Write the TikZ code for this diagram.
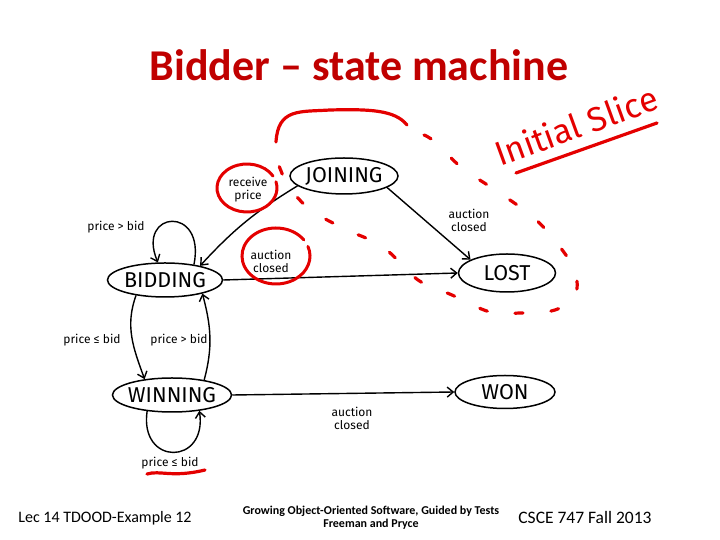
\documentclass[tikz,border=0pt]{standalone}
\usepackage{fontspec}
\setmainfont{Carlito}
\newfontfamily\handfont{Fira Sans}
\usetikzlibrary{positioning,shapes.geometric,arrows.meta}
\definecolor{titleRed}{RGB}{192,0,0}
\definecolor{penRed}{RGB}{228,0,0}
\tikzset{
  statenode/.style={draw, ellipse, line width=1.5pt, inner xsep=-8pt, inner ysep=0pt, font=\handfont\fontsize{21.5}{21.5}\selectfont},
  trans/.style={->, line width=1.4pt},
  lbl/.style={font=\handfont\fontsize{12}{13}\selectfont, align=center, inner sep=1pt},
  ring/.style={draw=penRed, line width=3pt, line cap=round},
  slicepen/.style={penRed, line width=3.2pt, line cap=round},
  foot/.style={anchor=base, inner sep=0pt}
}

\begin{document}
\begin{tikzpicture}[x=1pt, y=1pt, >={Straight Barb[length=6pt,width=10pt]}]
  \useasboundingbox (0,0) rectangle (720,540);

  % title
  \node[anchor=base, text=titleRed, font=\bfseries\fontsize{44}{44}\selectfont] (title) at (359,459) {Bidder -- state machine};

  % states
  \node[statenode, minimum width=108pt, minimum height=36pt] (joining) at (344,364) {JOINING};
  \node[statenode, minimum width=115pt, minimum height=34pt] (bidding) at (165,260) {BIDDING};
  \node[statenode, minimum width=97pt, minimum height=38pt] (lost) at (507,267) {LOST};
  \node[statenode, minimum width=119pt, minimum height=34pt] (winning) at (172,145) {WINNING};
  \node[statenode, minimum width=100pt, minimum height=33pt] (won) at (505,148) {WON};

  % transitions
  \draw[trans] (joining.192) to[bend right=8] (bidding.22);
  \draw[trans] (joining.-15) -- (lost.160);
  \draw[trans] (bidding.east) -- (lost.west);
  \draw[trans] (winning.east) -- (won.west);
  \draw[trans] (bidding.28) .. controls +(12,60) and +(-22,52) .. (bidding.112);
  \draw[trans] (bidding.208) to[out=250, in=110] (winning.150);
  \draw[trans] (winning.25) to[out=75, in=285] (bidding.340);
  \draw[trans] (winning.213) .. controls +(-8,-55) and +(8,-55) .. (winning.330);

  % labels
  \node[lbl] (lblRecv) at (248,350) {receive\\price};
  \node[lbl] (lblBidLost) at (271,279) {auction\\closed};
  \node[lbl] (lblJoinLost) at (469,320) {auction\\closed};
  \node[lbl] (lblWinWon) at (352,122) {auction\\closed};
  \node[lbl] (lblBidLoop) at (116,313) {price > bid};
  \node[lbl] (lblBidWin) at (92,200) {price ≤ bid};
  \node[lbl] (lblWinBid) at (179,200) {price > bid};
  \node[lbl] (lblWinLoop) at (170,77) {price ≤ bid};

  % red pen marks
  \draw[ring] (247,352) ++(30:30 and 24) arc[start angle=30, end angle=375, x radius=30, y radius=24];
  \draw[ring] (276,284) ++(35:34 and 28) arc[start angle=35, end angle=380, x radius=34, y radius=28];
  \draw[slicepen] (147,66) .. controls (160,70) and (172,62) .. (205,70);
  \draw[slicepen] (276,398) .. controls (278,432) and (300,428) .. (330,430) .. controls (370,431) and (395,430) .. (407,415);
  \draw[slicepen, dash pattern=on 8pt off 28pt] plot[smooth, tension=0.6] coordinates {(424,405) (435,398) (462,372) (492,352) (533,323) (560,293) (575,268) (575,245) (555,230) (520,227) (490,228) (452,245) (418,260) (383,293) (347,310) (315,327) (297,343) (285,360) (275,385)};
  \node[anchor=base west, rotate=20, text=penRed, font=\handfont\fontsize{34}{34}\selectfont, inner sep=0pt] (slice) at (500,373) {Initial Slice};
  \draw[slicepen] (516,367) -- (657,417);

  % footer
  \node[foot, font=\fontsize{16}{16}\selectfont] (lec) at (105,17) {Lec 14 TDOOD-Example 12};
  \node[foot, font=\bfseries\fontsize{12}{12}\selectfont] (book) at (371,25) {Growing Object-Oriented Software, Guided by Tests};
  \node[foot, font=\bfseries\fontsize{12}{12}\selectfont] (authors) at (371,12) {Freeman and Pryce};
  \node[foot, font=\fontsize{17.5}{17.5}\selectfont] (course) at (585,16) {CSCE 747 Fall 2013};
\end{tikzpicture}
\end{document}
